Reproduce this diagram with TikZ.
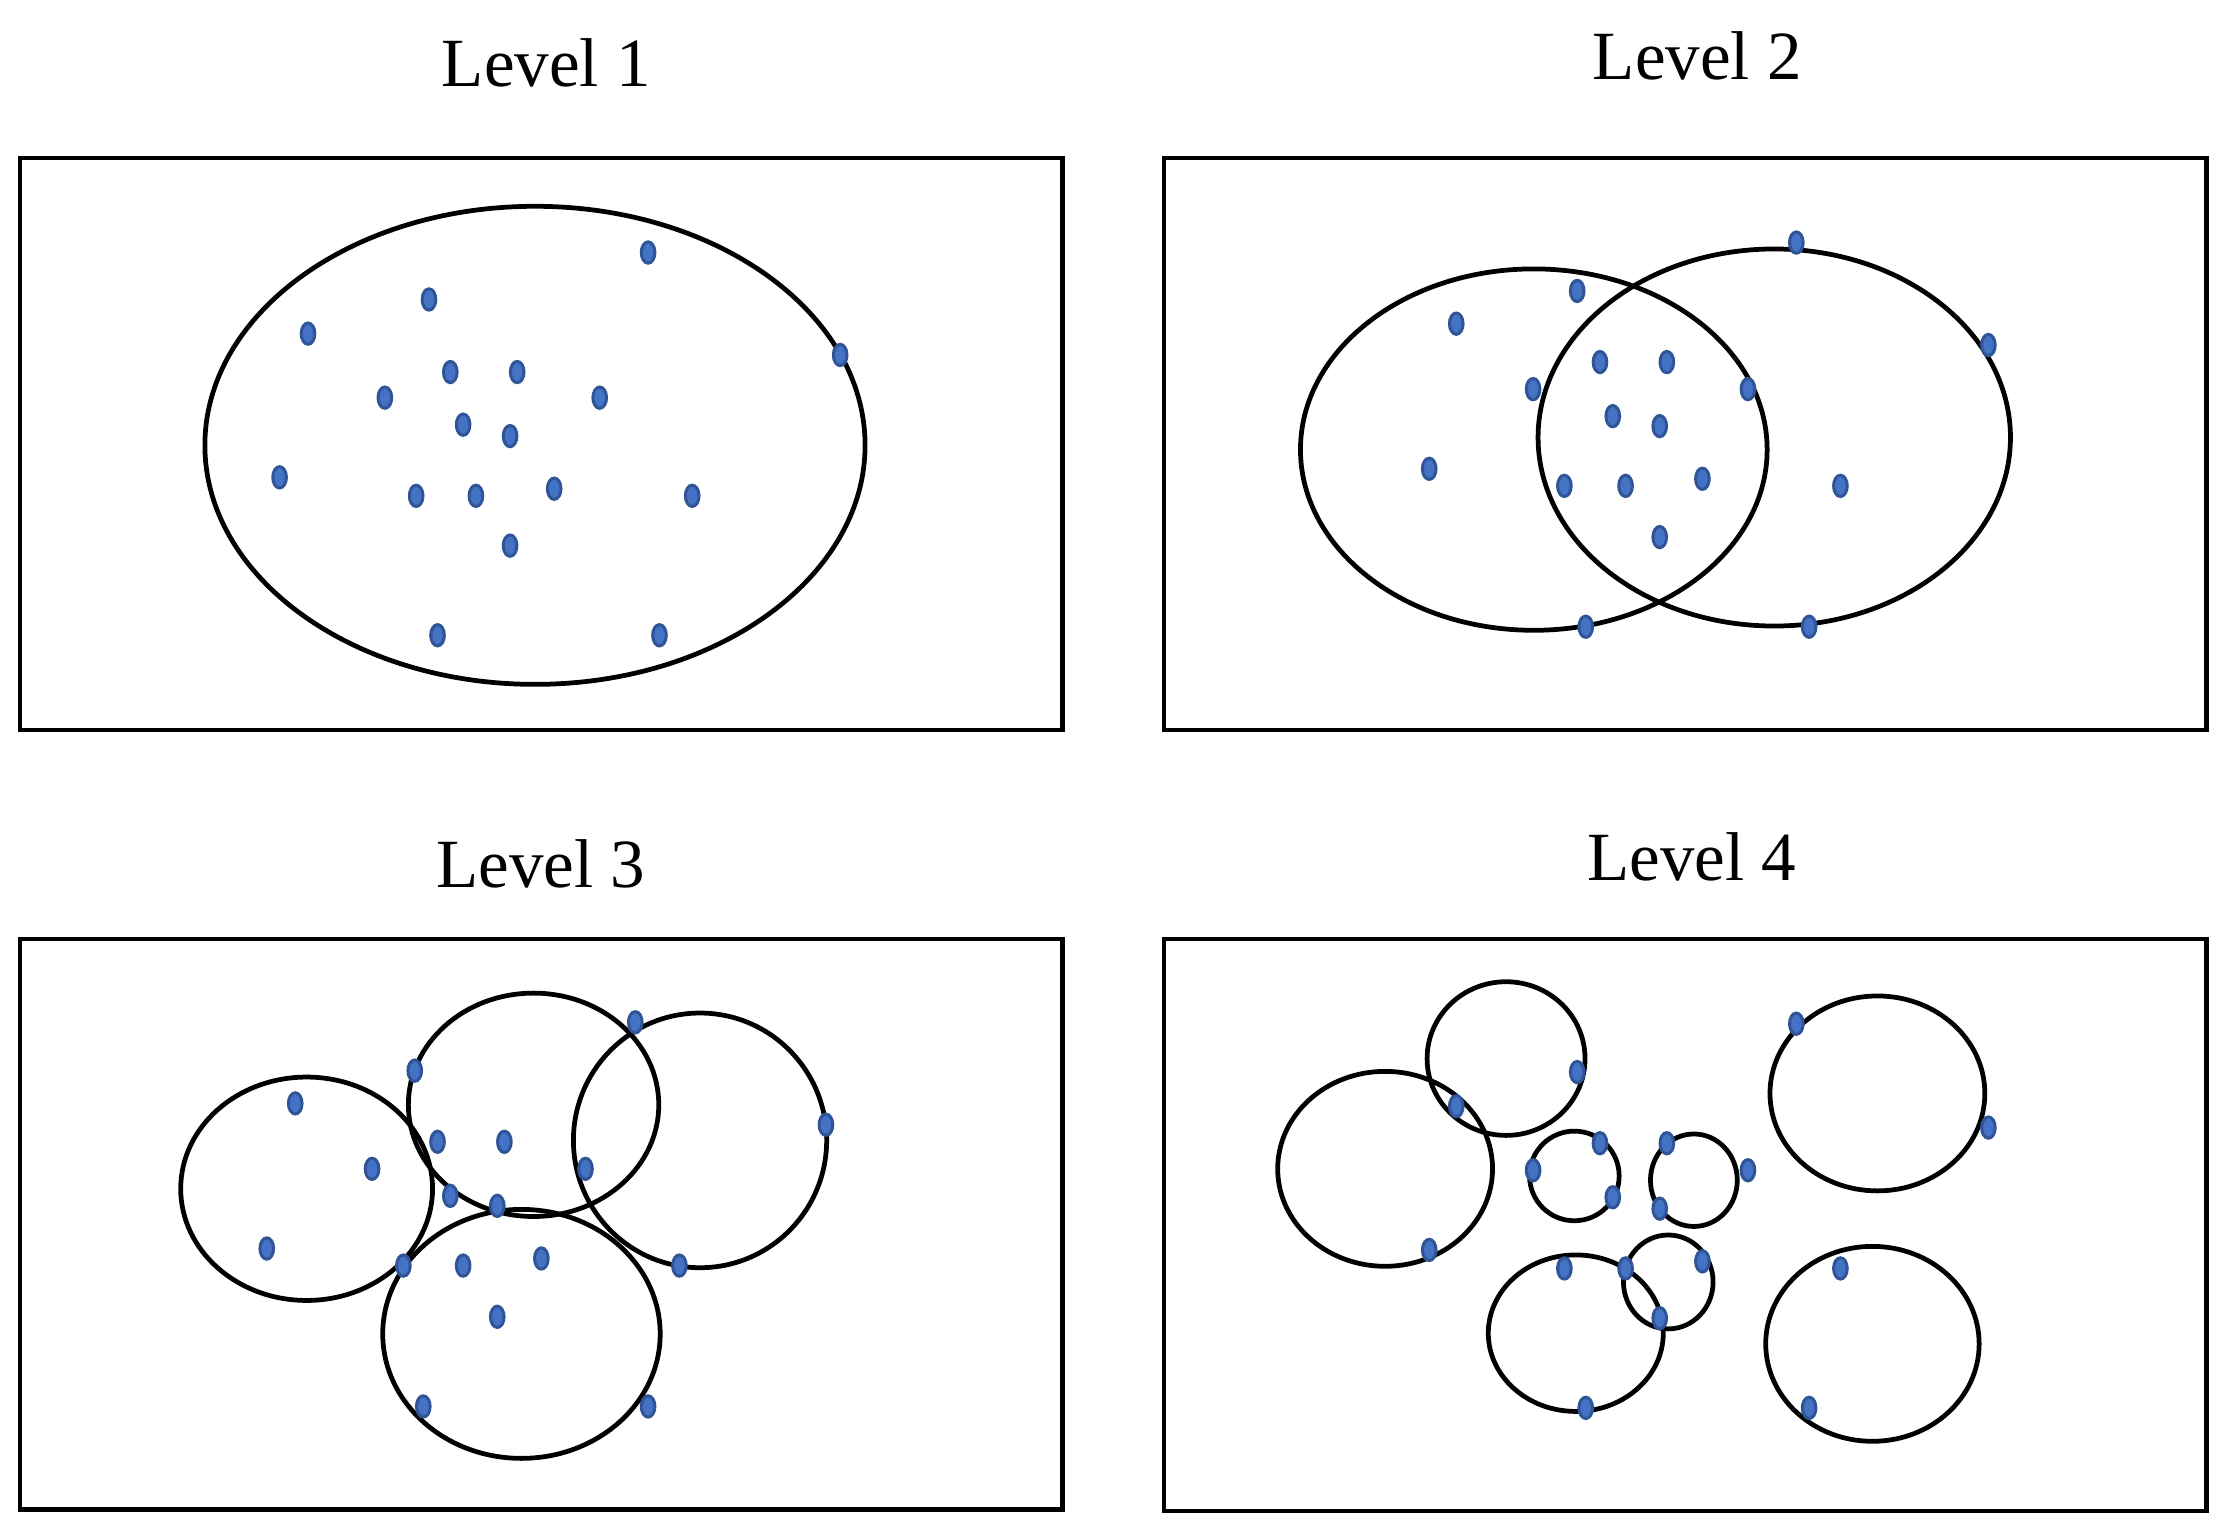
\documentclass[tikz,border=0pt]{standalone}
\usepackage{fontspec}
\setmainfont{Liberation Serif}
\definecolor{dotfill}{HTML}{4472C4}
\definecolor{dotline}{HTML}{2F5597}
\tikzset{
  panel/.style={draw=black, line width=0.95pt},
  ring/.style={draw=black, line width=0.95pt},
  title/.style={anchor=base, inner sep=0pt, font=\fontsize{13.8}{16}\selectfont},
  pt/.style={fill=dotfill, draw=dotline, line width=0.6pt}
}
\begin{document}
\begin{tikzpicture}[x=0.01cm, y=-0.01cm]
\useasboundingbox (0,0) rectangle (1568,1080);
% titles
\node[title] (t1) at (384,61) {Level 1};
\node[title] (t2) at (1193,56) {Level 2};
\node[title] (t3) at (380,624) {Level 3};
\node[title] (t4) at (1189,619) {Level 4};
% panels
\draw[panel] (14,111) rectangle (747,513);
\draw[panel] (818,111) rectangle (1551,513);
\draw[panel] (14,660) rectangle (747,1061);
\draw[panel] (818,660) rectangle (1551,1062);
% level 1
\draw[ring] (376,313) ellipse [x radius=232, y radius=168];
\foreach \p in {(455,177),(301,210),(216,234),(590,249),(316,261),(363,261),(270,279),(421,279),(325,298),(358,306),(196,335),(292,348),(334,348),(389,343),(486,348),(358,383),(307,446),(463,446)}
  {\path[pt] \p ++(0.5,0.5) ellipse [x radius=4.8, y radius=7.5];}
% level 2
\draw[ring] (1078,316) ellipse [x radius=164, y radius=127];
\draw[ring] (1247,307.5) ellipse [x radius=166, y radius=132.5];
\foreach \p in {(1262,170),(1108,204),(1023,227),(1397,242),(1124,254),(1171,254),(1077,273),(1228,273),(1133,292),(1166,299),(1004,329),(1099,341),(1142,341),(1196,336),(1293,341),(1166,377),(1114,440),(1271,440)}
  {\path[pt] \p ++(0.5,0.5) ellipse [x radius=4.8, y radius=7.5];}
% level 3
\draw[ring] (215.5,835.5) ellipse [x radius=88.5, y radius=78.5];
\draw[ring] (375,776.5) ellipse [x radius=88, y radius=78.5];
\draw[ring] (492,801.5) ellipse [x radius=89, y radius=89.5];
\draw[ring] (366.5,937.5) ellipse [x radius=97.5, y radius=87.5];
\foreach \p in {(446,718),(291,752),(207,775),(580,790),(307,802),(354,802),(261,821),(411,821),(316,840),(349,847),(187,877),(283,889),(325,889),(380,884),(477,889),(349,925),(297,988),(455,988)}
  {\path[pt] \p ++(0.5,0.5) ellipse [x radius=4.8, y radius=7.5];}
% level 4
\draw[ring] (1058.5,744) ellipse [x radius=55.5, y radius=54];
\draw[ring] (973.5,821.5) ellipse [x radius=75.5, y radius=68.5];
\draw[ring] (1106.5,826.5) ellipse [x radius=31.5, y radius=31.5];
\draw[ring] (1190.5,829.5) ellipse [x radius=30.5, y radius=32.5];
\draw[ring] (1319.5,768.5) ellipse [x radius=75.5, y radius=68.5];
\draw[ring] (1172.5,901) ellipse [x radius=31.5, y radius=33];
\draw[ring] (1107.5,937) ellipse [x radius=61.5, y radius=55];
\draw[ring] (1316,944.5) ellipse [x radius=75, y radius=68.5];
\foreach \p in {(1262,719),(1108,753),(1023,777),(1397,792),(1124,803),(1171,803),(1077,822),(1228,822),(1133,841),(1166,849),(1004,878),(1099,891),(1142,891),(1196,886),(1293,891),(1166,926),(1114,989),(1271,989)}
  {\path[pt] \p ++(0.5,0.5) ellipse [x radius=4.8, y radius=7.5];}
\end{tikzpicture}
\end{document}
